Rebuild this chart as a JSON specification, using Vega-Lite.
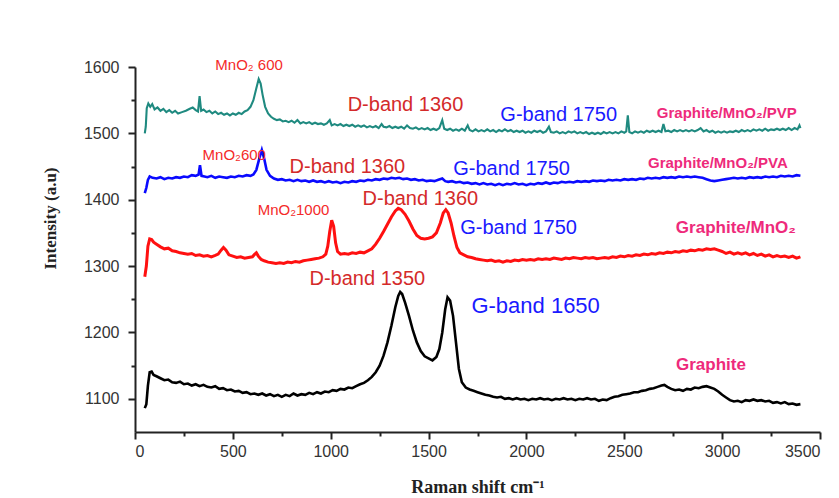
{
  "$schema": "https://vega.github.io/schema/vega-lite/v6.json",
  "width": 685,
  "height": 365,
  "autosize": {"type": "none"},
  "padding": {"left": 135, "top": 67, "right": 19, "bottom": 66},
  "background": "white",
  "config": {"view": {"stroke": null}},
  "datasets": {
    "graphite": [
      {"x":50,"y":1086},{"x":58,"y":1092},{"x":66,"y":1120},{"x":75,"y":1140},{"x":85,"y":1141},{"x":95,"y":1136},{"x":110,"y":1134},{"x":130,"y":1131},{"x":150,"y":1128},{"x":170,"y":1129},{"x":190,"y":1125},{"x":210,"y":1124},{"x":230,"y":1126},{"x":250,"y":1122},{"x":270,"y":1123},{"x":290,"y":1120},{"x":310,"y":1122},{"x":330,"y":1119},{"x":350,"y":1121},{"x":370,"y":1118},{"x":390,"y":1117},{"x":410,"y":1119},{"x":430,"y":1115},{"x":450,"y":1116},{"x":470,"y":1113},{"x":490,"y":1114},{"x":510,"y":1111},{"x":530,"y":1112},{"x":550,"y":1109},{"x":570,"y":1110},{"x":590,"y":1107},{"x":610,"y":1108},{"x":630,"y":1106},{"x":650,"y":1108},{"x":670,"y":1105},{"x":690,"y":1107},{"x":710,"y":1104},{"x":730,"y":1106},{"x":750,"y":1103},{"x":770,"y":1106},{"x":790,"y":1104},{"x":810,"y":1108},{"x":830,"y":1105},{"x":850,"y":1107},{"x":870,"y":1106},{"x":890,"y":1109},{"x":910,"y":1107},{"x":930,"y":1110},{"x":950,"y":1108},{"x":970,"y":1111},{"x":990,"y":1110},{"x":1010,"y":1113},{"x":1030,"y":1112},{"x":1050,"y":1115},{"x":1070,"y":1114},{"x":1090,"y":1117},{"x":1110,"y":1116},{"x":1130,"y":1119},{"x":1150,"y":1122},{"x":1170,"y":1124},{"x":1190,"y":1128},{"x":1210,"y":1133},{"x":1230,"y":1140},{"x":1250,"y":1150},{"x":1270,"y":1165},{"x":1290,"y":1185},{"x":1310,"y":1210},{"x":1330,"y":1238},{"x":1345,"y":1255},{"x":1355,"y":1261},{"x":1365,"y":1258},{"x":1380,"y":1245},{"x":1400,"y":1225},{"x":1420,"y":1203},{"x":1440,"y":1185},{"x":1460,"y":1172},{"x":1480,"y":1164},{"x":1500,"y":1161},{"x":1520,"y":1158},{"x":1540,"y":1163},{"x":1555,"y":1175},{"x":1570,"y":1200},{"x":1585,"y":1235},{"x":1597,"y":1253},{"x":1610,"y":1248},{"x":1625,"y":1225},{"x":1640,"y":1185},{"x":1655,"y":1145},{"x":1670,"y":1125},{"x":1690,"y":1117},{"x":1710,"y":1114},{"x":1730,"y":1112},{"x":1750,"y":1110},{"x":1770,"y":1108},{"x":1790,"y":1106},{"x":1810,"y":1105},{"x":1830,"y":1103},{"x":1850,"y":1102},{"x":1870,"y":1103},{"x":1890,"y":1100},{"x":1910,"y":1101},{"x":1930,"y":1099},{"x":1950,"y":1101},{"x":1970,"y":1099},{"x":1990,"y":1100},{"x":2010,"y":1098},{"x":2030,"y":1100},{"x":2050,"y":1099},{"x":2070,"y":1101},{"x":2090,"y":1099},{"x":2110,"y":1100},{"x":2130,"y":1098},{"x":2150,"y":1100},{"x":2170,"y":1099},{"x":2190,"y":1101},{"x":2210,"y":1099},{"x":2230,"y":1100},{"x":2250,"y":1098},{"x":2270,"y":1100},{"x":2290,"y":1099},{"x":2310,"y":1101},{"x":2330,"y":1099},{"x":2350,"y":1100},{"x":2370,"y":1097},{"x":2390,"y":1099},{"x":2410,"y":1098},{"x":2430,"y":1101},{"x":2450,"y":1103},{"x":2470,"y":1104},{"x":2490,"y":1106},{"x":2510,"y":1107},{"x":2530,"y":1108},{"x":2550,"y":1110},{"x":2570,"y":1110},{"x":2590,"y":1112},{"x":2610,"y":1113},{"x":2630,"y":1115},{"x":2650,"y":1116},{"x":2670,"y":1118},{"x":2690,"y":1120},{"x":2705,"y":1121},{"x":2720,"y":1118},{"x":2740,"y":1115},{"x":2760,"y":1113},{"x":2780,"y":1114},{"x":2800,"y":1112},{"x":2820,"y":1115},{"x":2840,"y":1114},{"x":2860,"y":1117},{"x":2880,"y":1116},{"x":2900,"y":1118},{"x":2920,"y":1119},{"x":2940,"y":1117},{"x":2960,"y":1115},{"x":2980,"y":1111},{"x":3000,"y":1106},{"x":3020,"y":1102},{"x":3040,"y":1098},{"x":3060,"y":1096},{"x":3080,"y":1097},{"x":3100,"y":1095},{"x":3120,"y":1098},{"x":3140,"y":1097},{"x":3160,"y":1099},{"x":3180,"y":1097},{"x":3200,"y":1098},{"x":3220,"y":1096},{"x":3240,"y":1097},{"x":3260,"y":1094},{"x":3280,"y":1095},{"x":3300,"y":1093},{"x":3320,"y":1095},{"x":3340,"y":1092},{"x":3360,"y":1093},{"x":3380,"y":1091},{"x":3400,"y":1092}
    ],
    "mno2": [
      {"x":50,"y":1284},{"x":58,"y":1300},{"x":66,"y":1330},{"x":75,"y":1341},{"x":85,"y":1340},{"x":95,"y":1336},{"x":110,"y":1333},{"x":130,"y":1329},{"x":150,"y":1326},{"x":170,"y":1327},{"x":190,"y":1323},{"x":210,"y":1322},{"x":230,"y":1320},{"x":250,"y":1319},{"x":270,"y":1318},{"x":290,"y":1319},{"x":310,"y":1316},{"x":330,"y":1317},{"x":350,"y":1315},{"x":370,"y":1316},{"x":390,"y":1314},{"x":410,"y":1316},{"x":425,"y":1318},{"x":440,"y":1324},{"x":452,"y":1328},{"x":465,"y":1324},{"x":480,"y":1317},{"x":500,"y":1315},{"x":520,"y":1313},{"x":540,"y":1314},{"x":560,"y":1312},{"x":580,"y":1313},{"x":600,"y":1314},{"x":612,"y":1318},{"x":620,"y":1320},{"x":630,"y":1315},{"x":645,"y":1310},{"x":660,"y":1308},{"x":680,"y":1306},{"x":700,"y":1305},{"x":720,"y":1304},{"x":740,"y":1305},{"x":760,"y":1304},{"x":780,"y":1306},{"x":800,"y":1305},{"x":820,"y":1307},{"x":840,"y":1306},{"x":860,"y":1308},{"x":880,"y":1309},{"x":900,"y":1310},{"x":920,"y":1311},{"x":940,"y":1312},{"x":960,"y":1314},{"x":975,"y":1318},{"x":985,"y":1330},{"x":995,"y":1352},{"x":1005,"y":1369},{"x":1015,"y":1360},{"x":1025,"y":1335},{"x":1035,"y":1322},{"x":1050,"y":1318},{"x":1070,"y":1319},{"x":1090,"y":1318},{"x":1110,"y":1320},{"x":1130,"y":1319},{"x":1150,"y":1321},{"x":1170,"y":1320},{"x":1190,"y":1323},{"x":1210,"y":1326},{"x":1230,"y":1333},{"x":1250,"y":1342},{"x":1270,"y":1352},{"x":1290,"y":1363},{"x":1310,"y":1374},{"x":1330,"y":1383},{"x":1345,"y":1387},{"x":1360,"y":1385},{"x":1380,"y":1378},{"x":1400,"y":1368},{"x":1420,"y":1356},{"x":1440,"y":1346},{"x":1460,"y":1342},{"x":1480,"y":1341},{"x":1500,"y":1342},{"x":1520,"y":1344},{"x":1540,"y":1350},{"x":1560,"y":1365},{"x":1575,"y":1380},{"x":1588,"y":1385},{"x":1600,"y":1380},{"x":1615,"y":1365},{"x":1630,"y":1345},{"x":1645,"y":1328},{"x":1660,"y":1320},{"x":1680,"y":1317},{"x":1700,"y":1314},{"x":1720,"y":1313},{"x":1740,"y":1311},{"x":1760,"y":1310},{"x":1780,"y":1309},{"x":1800,"y":1308},{"x":1820,"y":1309},{"x":1840,"y":1307},{"x":1860,"y":1308},{"x":1880,"y":1306},{"x":1900,"y":1308},{"x":1920,"y":1307},{"x":1940,"y":1309},{"x":1960,"y":1308},{"x":1980,"y":1310},{"x":2000,"y":1309},{"x":2020,"y":1310},{"x":2040,"y":1309},{"x":2060,"y":1311},{"x":2080,"y":1310},{"x":2100,"y":1311},{"x":2120,"y":1310},{"x":2140,"y":1312},{"x":2160,"y":1311},{"x":2180,"y":1310},{"x":2200,"y":1312},{"x":2220,"y":1311},{"x":2240,"y":1313},{"x":2260,"y":1312},{"x":2280,"y":1311},{"x":2300,"y":1313},{"x":2320,"y":1312},{"x":2340,"y":1313},{"x":2360,"y":1311},{"x":2380,"y":1312},{"x":2400,"y":1313},{"x":2420,"y":1312},{"x":2440,"y":1314},{"x":2460,"y":1313},{"x":2480,"y":1315},{"x":2500,"y":1314},{"x":2520,"y":1316},{"x":2540,"y":1315},{"x":2560,"y":1317},{"x":2580,"y":1316},{"x":2600,"y":1318},{"x":2620,"y":1317},{"x":2640,"y":1319},{"x":2660,"y":1318},{"x":2680,"y":1320},{"x":2700,"y":1319},{"x":2720,"y":1321},{"x":2740,"y":1320},{"x":2760,"y":1322},{"x":2780,"y":1321},{"x":2800,"y":1323},{"x":2820,"y":1322},{"x":2840,"y":1324},{"x":2860,"y":1323},{"x":2880,"y":1325},{"x":2900,"y":1324},{"x":2920,"y":1326},{"x":2940,"y":1325},{"x":2960,"y":1326},{"x":2980,"y":1324},{"x":3000,"y":1322},{"x":3020,"y":1319},{"x":3040,"y":1321},{"x":3060,"y":1318},{"x":3080,"y":1320},{"x":3100,"y":1318},{"x":3120,"y":1320},{"x":3140,"y":1317},{"x":3160,"y":1319},{"x":3180,"y":1316},{"x":3200,"y":1318},{"x":3220,"y":1315},{"x":3240,"y":1317},{"x":3260,"y":1314},{"x":3280,"y":1316},{"x":3300,"y":1314},{"x":3320,"y":1315},{"x":3340,"y":1313},{"x":3360,"y":1315},{"x":3380,"y":1312},{"x":3400,"y":1314}
    ],
    "pva": [
      {"x":50,"y":1410},{"x":58,"y":1418},{"x":66,"y":1430},{"x":75,"y":1435},{"x":90,"y":1433},{"x":110,"y":1432},{"x":130,"y":1434},{"x":150,"y":1431},{"x":170,"y":1433},{"x":190,"y":1432},{"x":210,"y":1434},{"x":230,"y":1433},{"x":250,"y":1435},{"x":270,"y":1434},{"x":290,"y":1437},{"x":310,"y":1436},{"x":325,"y":1438},{"x":332,"y":1452},{"x":340,"y":1436},{"x":355,"y":1435},{"x":370,"y":1434},{"x":390,"y":1436},{"x":410,"y":1433},{"x":430,"y":1435},{"x":450,"y":1434},{"x":470,"y":1433},{"x":490,"y":1435},{"x":510,"y":1434},{"x":530,"y":1436},{"x":550,"y":1435},{"x":570,"y":1437},{"x":590,"y":1436},{"x":605,"y":1438},{"x":620,"y":1445},{"x":635,"y":1462},{"x":648,"y":1475},{"x":660,"y":1462},{"x":672,"y":1445},{"x":690,"y":1436},{"x":710,"y":1432},{"x":730,"y":1430},{"x":750,"y":1431},{"x":770,"y":1429},{"x":790,"y":1430},{"x":810,"y":1428},{"x":830,"y":1430},{"x":850,"y":1428},{"x":870,"y":1429},{"x":890,"y":1427},{"x":910,"y":1429},{"x":930,"y":1427},{"x":950,"y":1428},{"x":970,"y":1426},{"x":990,"y":1428},{"x":1010,"y":1426},{"x":1030,"y":1427},{"x":1050,"y":1425},{"x":1070,"y":1427},{"x":1090,"y":1426},{"x":1110,"y":1428},{"x":1130,"y":1427},{"x":1150,"y":1429},{"x":1170,"y":1428},{"x":1190,"y":1430},{"x":1210,"y":1429},{"x":1230,"y":1431},{"x":1250,"y":1430},{"x":1270,"y":1432},{"x":1290,"y":1431},{"x":1310,"y":1433},{"x":1330,"y":1432},{"x":1350,"y":1433},{"x":1370,"y":1431},{"x":1390,"y":1432},{"x":1410,"y":1430},{"x":1430,"y":1431},{"x":1450,"y":1429},{"x":1470,"y":1430},{"x":1490,"y":1428},{"x":1510,"y":1429},{"x":1530,"y":1428},{"x":1550,"y":1430},{"x":1570,"y":1432},{"x":1585,"y":1428},{"x":1600,"y":1427},{"x":1620,"y":1428},{"x":1640,"y":1426},{"x":1660,"y":1427},{"x":1680,"y":1425},{"x":1700,"y":1426},{"x":1720,"y":1424},{"x":1740,"y":1425},{"x":1760,"y":1423},{"x":1780,"y":1425},{"x":1800,"y":1423},{"x":1820,"y":1424},{"x":1840,"y":1422},{"x":1860,"y":1424},{"x":1880,"y":1422},{"x":1900,"y":1424},{"x":1920,"y":1423},{"x":1940,"y":1425},{"x":1960,"y":1423},{"x":1980,"y":1424},{"x":2000,"y":1422},{"x":2020,"y":1424},{"x":2040,"y":1423},{"x":2060,"y":1425},{"x":2080,"y":1424},{"x":2100,"y":1426},{"x":2120,"y":1424},{"x":2140,"y":1426},{"x":2160,"y":1425},{"x":2180,"y":1427},{"x":2200,"y":1426},{"x":2220,"y":1427},{"x":2240,"y":1426},{"x":2260,"y":1428},{"x":2280,"y":1427},{"x":2300,"y":1428},{"x":2320,"y":1427},{"x":2340,"y":1429},{"x":2360,"y":1428},{"x":2380,"y":1429},{"x":2400,"y":1428},{"x":2420,"y":1430},{"x":2440,"y":1429},{"x":2460,"y":1430},{"x":2480,"y":1429},{"x":2500,"y":1431},{"x":2520,"y":1430},{"x":2540,"y":1431},{"x":2560,"y":1430},{"x":2580,"y":1432},{"x":2600,"y":1431},{"x":2620,"y":1433},{"x":2640,"y":1432},{"x":2660,"y":1433},{"x":2680,"y":1432},{"x":2700,"y":1434},{"x":2720,"y":1433},{"x":2740,"y":1434},{"x":2760,"y":1433},{"x":2780,"y":1435},{"x":2800,"y":1434},{"x":2820,"y":1435},{"x":2840,"y":1434},{"x":2860,"y":1435},{"x":2880,"y":1434},{"x":2900,"y":1433},{"x":2920,"y":1431},{"x":2940,"y":1429},{"x":2960,"y":1428},{"x":2980,"y":1429},{"x":3000,"y":1430},{"x":3020,"y":1431},{"x":3040,"y":1432},{"x":3060,"y":1433},{"x":3080,"y":1432},{"x":3100,"y":1433},{"x":3120,"y":1432},{"x":3140,"y":1434},{"x":3160,"y":1433},{"x":3180,"y":1434},{"x":3200,"y":1433},{"x":3220,"y":1435},{"x":3240,"y":1434},{"x":3260,"y":1435},{"x":3280,"y":1434},{"x":3300,"y":1436},{"x":3320,"y":1435},{"x":3340,"y":1436},{"x":3360,"y":1435},{"x":3380,"y":1437},{"x":3400,"y":1436}
    ],
    "pvp": [
      {"x":50,"y":1500},{"x":55,"y":1510},{"x":60,"y":1538},{"x":68,"y":1545},{"x":78,"y":1540},{"x":88,"y":1544},{"x":100,"y":1536},{"x":115,"y":1539},{"x":130,"y":1534},{"x":145,"y":1537},{"x":160,"y":1532},{"x":175,"y":1535},{"x":190,"y":1531},{"x":205,"y":1534},{"x":220,"y":1530},{"x":240,"y":1532},{"x":260,"y":1534},{"x":280,"y":1537},{"x":295,"y":1539},{"x":310,"y":1535},{"x":322,"y":1533},{"x":330,"y":1556},{"x":338,"y":1534},{"x":350,"y":1536},{"x":365,"y":1532},{"x":380,"y":1534},{"x":395,"y":1530},{"x":410,"y":1533},{"x":425,"y":1529},{"x":440,"y":1531},{"x":455,"y":1528},{"x":470,"y":1530},{"x":485,"y":1527},{"x":500,"y":1530},{"x":515,"y":1528},{"x":530,"y":1531},{"x":545,"y":1529},{"x":560,"y":1533},{"x":575,"y":1535},{"x":590,"y":1540},{"x":605,"y":1550},{"x":620,"y":1568},{"x":632,"y":1582},{"x":642,"y":1575},{"x":652,"y":1558},{"x":665,"y":1540},{"x":680,"y":1530},{"x":695,"y":1525},{"x":710,"y":1522},{"x":725,"y":1520},{"x":740,"y":1521},{"x":755,"y":1518},{"x":770,"y":1519},{"x":785,"y":1517},{"x":800,"y":1519},{"x":815,"y":1516},{"x":830,"y":1520},{"x":845,"y":1515},{"x":860,"y":1517},{"x":875,"y":1515},{"x":890,"y":1517},{"x":905,"y":1514},{"x":920,"y":1516},{"x":935,"y":1514},{"x":950,"y":1515},{"x":965,"y":1513},{"x":980,"y":1515},{"x":995,"y":1520},{"x":1005,"y":1512},{"x":1020,"y":1514},{"x":1035,"y":1512},{"x":1050,"y":1514},{"x":1065,"y":1511},{"x":1080,"y":1513},{"x":1095,"y":1511},{"x":1110,"y":1513},{"x":1125,"y":1510},{"x":1140,"y":1512},{"x":1155,"y":1510},{"x":1170,"y":1512},{"x":1185,"y":1509},{"x":1200,"y":1511},{"x":1215,"y":1509},{"x":1230,"y":1511},{"x":1245,"y":1508},{"x":1260,"y":1514},{"x":1270,"y":1510},{"x":1285,"y":1509},{"x":1300,"y":1511},{"x":1315,"y":1508},{"x":1330,"y":1510},{"x":1345,"y":1508},{"x":1360,"y":1510},{"x":1375,"y":1507},{"x":1390,"y":1512},{"x":1405,"y":1508},{"x":1420,"y":1507},{"x":1435,"y":1509},{"x":1450,"y":1506},{"x":1465,"y":1508},{"x":1480,"y":1506},{"x":1495,"y":1508},{"x":1510,"y":1505},{"x":1525,"y":1507},{"x":1540,"y":1505},{"x":1555,"y":1508},{"x":1570,"y":1520},{"x":1580,"y":1507},{"x":1595,"y":1505},{"x":1610,"y":1507},{"x":1625,"y":1504},{"x":1640,"y":1506},{"x":1655,"y":1504},{"x":1670,"y":1507},{"x":1685,"y":1504},{"x":1700,"y":1512},{"x":1710,"y":1505},{"x":1725,"y":1503},{"x":1740,"y":1506},{"x":1755,"y":1503},{"x":1770,"y":1505},{"x":1785,"y":1503},{"x":1800,"y":1506},{"x":1815,"y":1503},{"x":1830,"y":1505},{"x":1845,"y":1502},{"x":1860,"y":1505},{"x":1875,"y":1503},{"x":1890,"y":1506},{"x":1905,"y":1503},{"x":1920,"y":1505},{"x":1935,"y":1502},{"x":1950,"y":1504},{"x":1965,"y":1502},{"x":1980,"y":1504},{"x":1995,"y":1501},{"x":2010,"y":1503},{"x":2025,"y":1501},{"x":2040,"y":1504},{"x":2055,"y":1502},{"x":2070,"y":1504},{"x":2085,"y":1501},{"x":2100,"y":1503},{"x":2115,"y":1510},{"x":2125,"y":1502},{"x":2140,"y":1501},{"x":2155,"y":1503},{"x":2170,"y":1500},{"x":2185,"y":1502},{"x":2200,"y":1500},{"x":2215,"y":1503},{"x":2230,"y":1501},{"x":2245,"y":1503},{"x":2260,"y":1500},{"x":2275,"y":1502},{"x":2290,"y":1500},{"x":2305,"y":1502},{"x":2320,"y":1499},{"x":2335,"y":1501},{"x":2350,"y":1499},{"x":2365,"y":1501},{"x":2380,"y":1499},{"x":2395,"y":1502},{"x":2410,"y":1500},{"x":2425,"y":1502},{"x":2440,"y":1500},{"x":2455,"y":1502},{"x":2470,"y":1500},{"x":2485,"y":1503},{"x":2500,"y":1501},{"x":2510,"y":1503},{"x":2518,"y":1527},{"x":2526,"y":1502},{"x":2540,"y":1500},{"x":2555,"y":1503},{"x":2570,"y":1501},{"x":2585,"y":1503},{"x":2600,"y":1501},{"x":2615,"y":1504},{"x":2630,"y":1502},{"x":2645,"y":1504},{"x":2660,"y":1502},{"x":2675,"y":1504},{"x":2690,"y":1502},{"x":2700,"y":1514},{"x":2710,"y":1503},{"x":2725,"y":1504},{"x":2740,"y":1502},{"x":2755,"y":1505},{"x":2770,"y":1503},{"x":2785,"y":1505},{"x":2800,"y":1503},{"x":2815,"y":1505},{"x":2830,"y":1503},{"x":2845,"y":1505},{"x":2860,"y":1503},{"x":2875,"y":1505},{"x":2890,"y":1508},{"x":2905,"y":1503},{"x":2920,"y":1505},{"x":2935,"y":1502},{"x":2950,"y":1504},{"x":2965,"y":1501},{"x":2980,"y":1503},{"x":2995,"y":1501},{"x":3010,"y":1503},{"x":3025,"y":1501},{"x":3040,"y":1503},{"x":3055,"y":1502},{"x":3070,"y":1504},{"x":3085,"y":1502},{"x":3100,"y":1505},{"x":3115,"y":1503},{"x":3130,"y":1505},{"x":3145,"y":1503},{"x":3160,"y":1506},{"x":3175,"y":1504},{"x":3190,"y":1506},{"x":3205,"y":1504},{"x":3220,"y":1507},{"x":3235,"y":1504},{"x":3250,"y":1506},{"x":3265,"y":1505},{"x":3280,"y":1507},{"x":3295,"y":1505},{"x":3310,"y":1507},{"x":3325,"y":1505},{"x":3340,"y":1508},{"x":3355,"y":1505},{"x":3370,"y":1508},{"x":3385,"y":1506},{"x":3395,"y":1512},{"x":3400,"y":1508}
    ],
    "labels": [
      {"x":583,"y":1603,"text":"MnO₂ 600","kind":"mno2"},
      {"x":507,"y":1467,"text":"MnO₂600","kind":"mno2"},
      {"x":810,"y":1384,"text":"MnO₂1000","kind":"mno2"},
      {"x":1382,"y":1543,"text":"D-band 1360","kind":"dband"},
      {"x":1085,"y":1450,"text":"D-band 1360","kind":"dband"},
      {"x":1458,"y":1401,"text":"D-band 1360","kind":"dband"},
      {"x":1187,"y":1281,"text":"D-band 1350","kind":"dband"},
      {"x":2165,"y":1527,"text":"G-band 1750","kind":"gband"},
      {"x":1924,"y":1446,"text":"G-band 1750","kind":"gband"},
      {"x":1960,"y":1358,"text":"G-band 1750","kind":"gband"},
      {"x":2047,"y":1240,"text":"G-band 1650","kind":"gbandbig"},
      {"x":3024,"y":1530,"text":"Graphite/MnO₂/PVP","kind":"sample"},
      {"x":2978,"y":1456,"text":"Graphite/MnO₂/PVA","kind":"sample"},
      {"x":3070,"y":1357,"text":"Graphite/MnO₂","kind":"samplebig"},
      {"x":2943,"y":1151,"text":"Graphite","kind":"samplebig"}
    ]
  },
  "encoding": {
    "x": {
      "field": "x", "type": "quantitative",
      "scale": {"domain": [0, 3500], "nice": false, "zero": false},
      "axis": {
        "title": "Raman shift cm⁻¹",
        "values": [0,250,500,750,1000,1250,1500,1750,2000,2250,2500,2750,3000,3250,3500],
        "labelExpr": "datum.value % 500 === 0 ? datum.label : ''",
        "format": "d",
        "labelOverlap": false,
        "grid": false,
        "domainColor": "#222", "domainWidth": 2,
        "tickColor": "#222", "tickWidth": 2,
        "tickSize": {"condition": {"test": "datum.value % 500 === 0", "value": 7}, "value": 4},
        "labelFont": "Liberation Sans", "labelFontSize": 16, "labelColor": "#333", "labelPadding": 4,
        "titleFont": "Liberation Serif", "titleFontSize": 18, "titleFontWeight": "bold", "titleColor": "#222",
        "titleY": 55, "titleBaseline": "middle"
      }
    },
    "y": {
      "field": "y", "type": "quantitative",
      "scale": {"domain": [1050, 1600], "nice": false, "zero": false},
      "axis": {
        "title": "Intensity (a.u)",
        "values": [1100,1150,1200,1250,1300,1350,1400,1450,1500,1550,1600],
        "labelExpr": "datum.value % 100 === 0 ? datum.label : ''",
        "format": "d",
        "labelOverlap": false,
        "grid": false,
        "domainColor": "#222", "domainWidth": 2,
        "tickColor": "#222", "tickWidth": 2,
        "tickSize": {"condition": {"test": "datum.value % 100 === 0", "value": 7}, "value": 4},
        "labelFont": "Liberation Sans", "labelFontSize": 16, "labelColor": "#333", "labelPadding": 9,
        "titleFont": "Liberation Serif", "titleFontSize": 17, "titleFontWeight": "bold", "titleColor": "#222",
        "titleX": -85, "titleY": 151, "titleBaseline": "middle", "titleAngle": -90
      }
    }
  },
  "layer": [
    {"data": {"name": "graphite"}, "mark": {"type": "line", "color": "#000000", "strokeWidth": 2.6}},
    {"data": {"name": "mno2"}, "mark": {"type": "line", "color": "#ff1010", "strokeWidth": 3}},
    {"data": {"name": "pva"}, "mark": {"type": "line", "color": "#0a0aff", "strokeWidth": 2.6}},
    {"data": {"name": "pvp"}, "mark": {"type": "line", "color": "#1f8a80", "strokeWidth": 2.1}},
    {"data": {"name": "labels"}, "transform": [{"filter": "datum.kind === 'mno2'"}],
     "mark": {"type": "text", "font": "Liberation Sans", "fontSize": 15, "color": "#f42a2a", "baseline": "middle"},
     "encoding": {"text": {"field": "text"}}},
    {"data": {"name": "labels"}, "transform": [{"filter": "datum.kind === 'dband'"}],
     "mark": {"type": "text", "font": "Liberation Sans", "fontSize": 20, "color": "#d42a2a", "baseline": "middle"},
     "encoding": {"text": {"field": "text"}}},
    {"data": {"name": "labels"}, "transform": [{"filter": "datum.kind === 'gband'"}],
     "mark": {"type": "text", "font": "Liberation Sans", "fontSize": 20, "color": "#1a1aff", "baseline": "middle"},
     "encoding": {"text": {"field": "text"}}},
    {"data": {"name": "labels"}, "transform": [{"filter": "datum.kind === 'gbandbig'"}],
     "mark": {"type": "text", "font": "Liberation Sans", "fontSize": 22, "color": "#1a1aff", "baseline": "middle"},
     "encoding": {"text": {"field": "text"}}},
    {"data": {"name": "labels"}, "transform": [{"filter": "datum.kind === 'sample'"}],
     "mark": {"type": "text", "font": "Liberation Sans", "fontSize": 15, "fontWeight": "bold", "color": "#ee2a7b", "baseline": "middle"},
     "encoding": {"text": {"field": "text"}}},
    {"data": {"name": "labels"}, "transform": [{"filter": "datum.kind === 'samplebig'"}],
     "mark": {"type": "text", "font": "Liberation Sans", "fontSize": 17, "fontWeight": "bold", "color": "#ee2a7b", "baseline": "middle"},
     "encoding": {"text": {"field": "text"}}}
  ]
}
